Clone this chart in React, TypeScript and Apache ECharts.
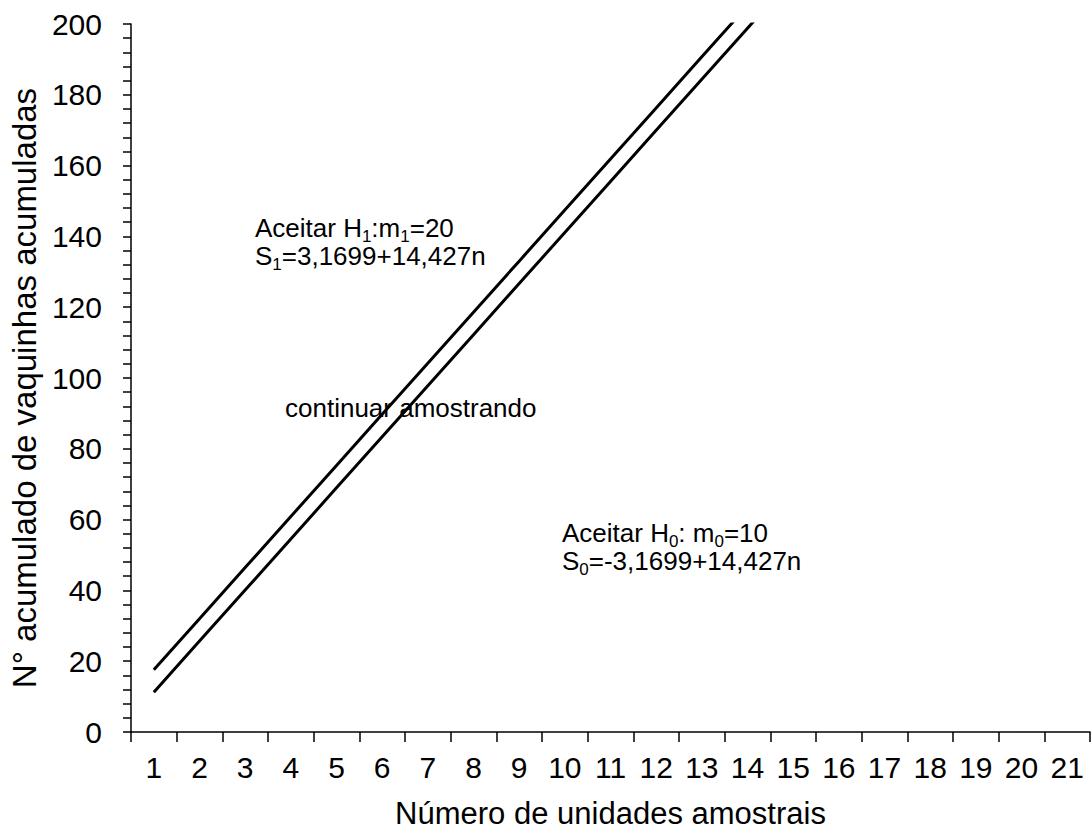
import React, { useEffect, useRef } from "react";
import * as echarts from "echarts";

const categories = ["1","2","3","4","5","6","7","8","9","10","11","12","13","14","15","16","17","18","19","20","21"];
// S1 = 3,1699 + 14,427n (values beyond 200 are clipped by the axis)
const s1Values = [17.597, 32.024, 46.451, 60.878, 75.305, 89.732, 104.159, 118.586, 133.013, 147.44, 161.867, 176.294, 190.721, 205.148];
// S0 = -3,1699 + 14,427n
const s0Values = [11.257, 25.684, 40.111, 54.538, 68.965, 83.392, 97.819, 112.246, 126.673, 141.1, 155.527, 169.954, 184.381, 198.808, 213.235];

const FONT = "Liberation Sans, Arial, sans-serif";

export default function App() {
  const ref = useRef<HTMLDivElement>(null);
  useEffect(() => {
    if (!ref.current) return;
    const chart = echarts.init(ref.current, undefined, { renderer: "svg" });
    const rich = {
      n: { fontSize: 26, fontFamily: FONT, color: "#000", lineHeight: 28 },
      s: { fontSize: 17, fontFamily: FONT, color: "#000", lineHeight: 28, padding: [18, 0, 0, 0] },
    };
    chart.setOption({
      animation: false,
      backgroundColor: "#fff",
      textStyle: { fontFamily: FONT, color: "#000" },
      grid: { left: 130, top: 24, right: 1, bottom: 100, containLabel: false },
      xAxis: {
        type: "category",
        data: categories,
        boundaryGap: true,
        name: "Número de unidades amostrais",
        nameLocation: "middle",
        nameGap: 66,
        nameTextStyle: { fontSize: 31, fontFamily: FONT, color: "#000" },
        axisLine: { lineStyle: { color: "#000", width: 1.5 } },
        axisTick: { show: true, length: 10, lineStyle: { color: "#000", width: 1.5 } },
        axisLabel: { fontSize: 30, fontFamily: FONT, color: "#000", margin: 20, interval: 0 },
        splitLine: { show: false },
      },
      yAxis: {
        type: "value",
        min: 0,
        max: 200,
        interval: 20,
        name: "N° acumulado de vaquinhas acumuladas",
        nameLocation: "middle",
        nameGap: 90,
        nameTextStyle: { fontSize: 33, fontFamily: FONT, color: "#000", padding: [0, 20, 0, 0] },
        axisLine: { show: true, lineStyle: { color: "#000", width: 1.5 } },
        axisTick: { show: true, length: 8, lineStyle: { color: "#000", width: 1.5 } },
        minorTick: { show: true, splitNumber: 5, length: 8, lineStyle: { color: "#000", width: 1.5 } },
        axisLabel: { fontSize: 30, fontFamily: FONT, color: "#000", margin: 29 },
        splitLine: { show: false },
      },
      series: [
        {
          type: "line",
          name: "S1",
          data: s1Values,
          symbol: "none",
          clip: true,
          z: 5,
          lineStyle: { color: "#000", width: 3 },
        },
        {
          type: "line",
          name: "S0",
          data: s0Values,
          symbol: "none",
          clip: true,
          z: 5,
          lineStyle: { color: "#000", width: 3 },
        },
      ],
      graphic: [
        {
          type: "text",
          left: 255,
          top: 210,
          z: 1,
          style: {
            text: "{n|Aceitar H}{s|1}{n|:m}{s|1}{n|=20}\n{n|S}{s|1}{n|=3,1699+14,427n}",
            rich,
          },
        },
        {
          type: "text",
          left: 285,
          top: 395,
          z: 1,
          style: {
            text: "continuar amostrando",
            fontSize: 26,
            fontFamily: FONT,
            fill: "#000",
          },
        },
        {
          type: "text",
          left: 562,
          top: 515,
          z: 1,
          style: {
            text: "{n|Aceitar H}{s|0}{n|: m}{s|0}{n|=10}\n{n|S}{s|0}{n|=-3,1699+14,427n}",
            rich,
          },
        },
      ],
    });
    return () => chart.dispose();
  }, []);
  return <div ref={ref} style={{ width: 1091, height: 834, position: "absolute", left: 0, top: 0 }} />;
}
